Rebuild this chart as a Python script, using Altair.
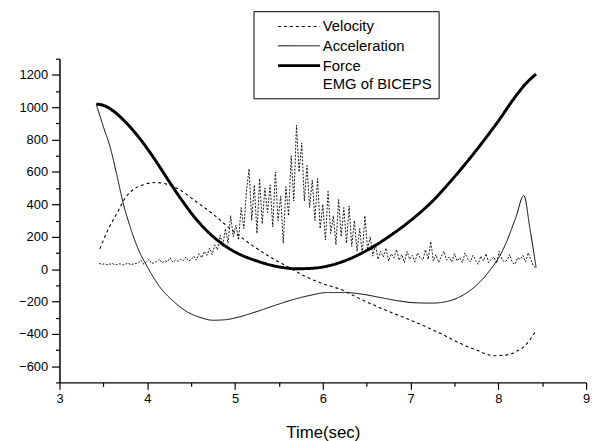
import altair as alt
import pandas as pd

# ---- data ----
series_names = ["Velocity", "Acceleration", "Force", "EMG of BICEPS"]

force_t = [3.42, 3.5, 3.6, 3.75, 3.9, 4.0, 4.1, 4.25, 4.4, 4.55, 4.75, 5.0, 5.25, 5.5,
           5.7, 5.9, 6.1, 6.3, 6.5, 6.75, 7.0, 7.25, 7.5, 7.75, 8.0, 8.2, 8.32, 8.43]
force_v = [1020, 1012, 982, 910, 817, 745, 666, 541, 421, 313, 201, 106, 50, 14,
           2, 6, 25, 62, 115, 200, 300, 420, 570, 735, 915, 1070, 1150, 1205]

accel_t = [3.42, 3.5, 3.58, 3.65, 3.72, 3.8, 3.9, 4.0, 4.14, 4.3, 4.45, 4.6, 4.75, 4.9,
           5.05, 5.25, 5.45, 5.65, 5.85, 6.05, 6.25, 6.45, 6.65, 6.85, 7.05, 7.25, 7.45,
           7.6, 7.75, 7.9, 8.05, 8.2, 8.29, 8.36, 8.43]
accel_v = [1017, 880, 748, 590, 420, 270, 120, 15, -108, -200, -262, -298, -316, -312,
           -295, -262, -225, -190, -163, -145, -145, -155, -175, -195, -208, -210, -195,
           -160, -100, -10, 116, 320, 455, 250, 10]

vel_t = [3.46, 3.55, 3.65, 3.75, 3.85, 3.95, 4.1, 4.22, 4.37, 4.5, 4.6, 4.75, 4.9, 5.05,
         5.2, 5.4, 5.6, 5.8, 6.0, 6.2, 6.45, 6.7, 6.95, 7.15, 7.35, 7.55, 7.75, 7.95,
         8.1, 8.2, 8.3, 8.43]
vel_v = [125, 240, 340, 440, 495, 520, 535, 525, 490, 440, 400, 340, 270, 205,
         145, 75, 15, -45, -90, -125, -190, -250, -305, -350, -400, -455, -500, -535,
         -530, -510, -475, -380]

emg_t0 = 3.45
emg_dt = 0.03
emg_v = [35, 30, 32, 28, 30, 35, 27, 30, 33, 25, 30, 38, 28, 31, 35,
         40, 55, 30, 45, 60, 35, 40, 48, 62, 38, 50, 45, 70, 42, 55,
         48, 60, 52, 75, 50, 58, 80, 55, 95, 70, 110, 85, 130, 90, 150,
         120, 210, 140, 250, 160, 330, 200, 270, 180, 380,
         250, 480, 620, 300, 520, 220, 560, 280, 500, 350,
         520, 260, 600, 300, 450, 160, 510, 330, 700, 420,
         890, 600, 780, 420, 640, 380, 550, 300, 560, 250,
         400, 180, 480, 220, 330, 150, 430, 200, 380, 160,
         390, 140, 300, 110, 250, 90, 330, 120, 200, 80,
         150, 60, 110, 75, 130, 50, 95, 70, 120, 55,
         90, 40, 110, 60, 85, 45, 100, 70, 55, 120,
         60, 170, 50, 90, 40, 80, 110, 55, 75, 45,
         95, 50, 70, 40, 100, 65, 45, 85, 55, 30,
         80, 50, 95, 40, 60, 75, 35, 110, 60, 45,
         55, 90, 40, 30, 70, 60, 85, 45, 100, 60, 20, 5]

y_ticks = list(range(-700, 1301, 100))
x_ticks = [3 + 0.5 * i for i in range(13)]

# ---- tables ----
rows = []
for name, ts, vs in [("Velocity", vel_t, vel_v), ("Acceleration", accel_t, accel_v),
                     ("Force", force_t, force_v)]:
    for t, v in zip(ts, vs):
        rows.append({"t": t, "v": v, "series": name})
curves = pd.DataFrame(rows)
emg = pd.DataFrame({"t": [round(emg_t0 + emg_dt * i, 3) for i in range(len(emg_v))],
                    "v": emg_v})

FONT = "Liberation Sans"

x_axis = alt.Axis(values=x_ticks, title="Time(sec)",
                  labelExpr="datum.value % 1 === 0 ? format(datum.value, 'd') : ''",
                  tickSize={"condition": {"test": "datum.value % 1 === 0", "value": 7}, "value": 4},
                  grid=False, labelFlush=False, labelOverlap=False,
                  domainColor="black", tickColor="black", labelColor="black",
                  titleColor="black", labelFontSize=13, titleFontSize=17,
                  titleFontWeight="normal", labelPadding=3, titlePadding=20,
                  labelFont=FONT, titleFont=FONT, domainWidth=1.2, tickWidth=1.2)
y_axis = alt.Axis(values=y_ticks, title=None,
                  labelExpr="datum.value % 200 === 0 ? format(datum.value, 'd') : ''",
                  tickSize={"condition": {"test": "datum.value % 200 === 0", "value": 8}, "value": 4},
                  grid=False, labelOverlap=False, labelFlush=False,
                  domainColor="black", tickColor="black", labelColor="black",
                  labelFontSize=13, labelPadding=4, labelFont=FONT,
                  domainWidth=1.5, tickWidth=1.2)

x_scale = alt.Scale(domain=[3, 9], nice=False)
y_scale = alt.Scale(domain=[-700, 1300], nice=False)

leg = alt.Legend(title=None, orient="none", legendX=196, legendY=-48,
                 symbolType="M-2.5,0H2.5", symbolSize=289, symbolStrokeColor="black",
                 symbolFillColor="transparent",
                 labelFontSize=15, labelFont=FONT, labelColor="black",
                 strokeColor="black", fillColor="white", padding=6,
                 symbolOffset=30, rowPadding=2, labelOffset=14)

lines = alt.Chart(curves).mark_line(color="black", interpolate="monotone").encode(
    x=alt.X("t:Q", scale=x_scale, axis=x_axis),
    y=alt.Y("v:Q", scale=y_scale, axis=y_axis),
    strokeDash=alt.StrokeDash("series:N", scale=alt.Scale(type="ordinal", domain=series_names,
                              range=[[3, 3], [1, 0], [1, 0], [1, 0]]), legend=leg),
    strokeWidth=alt.StrokeWidth("series:N", scale=alt.Scale(type="ordinal", domain=series_names,
                                range=[1.1, 1, 3, 0]), legend=leg),
    detail="series:N",
)

emg_line = alt.Chart(emg).mark_line(color="black", strokeWidth=0.9, strokeDash=[2, 1.5]).encode(
    x=alt.X("t:Q", scale=x_scale, axis=x_axis),
    y=alt.Y("v:Q", scale=y_scale, axis=y_axis),
)

chart = alt.layer(lines, emg_line).properties(
    width=532, height=327,
    padding={"left": 10, "top": 0, "right": 8, "bottom": 0},
).configure_view(stroke=None)

chart.save("out.html", embed_options={"renderer": "svg", "actions": False})
